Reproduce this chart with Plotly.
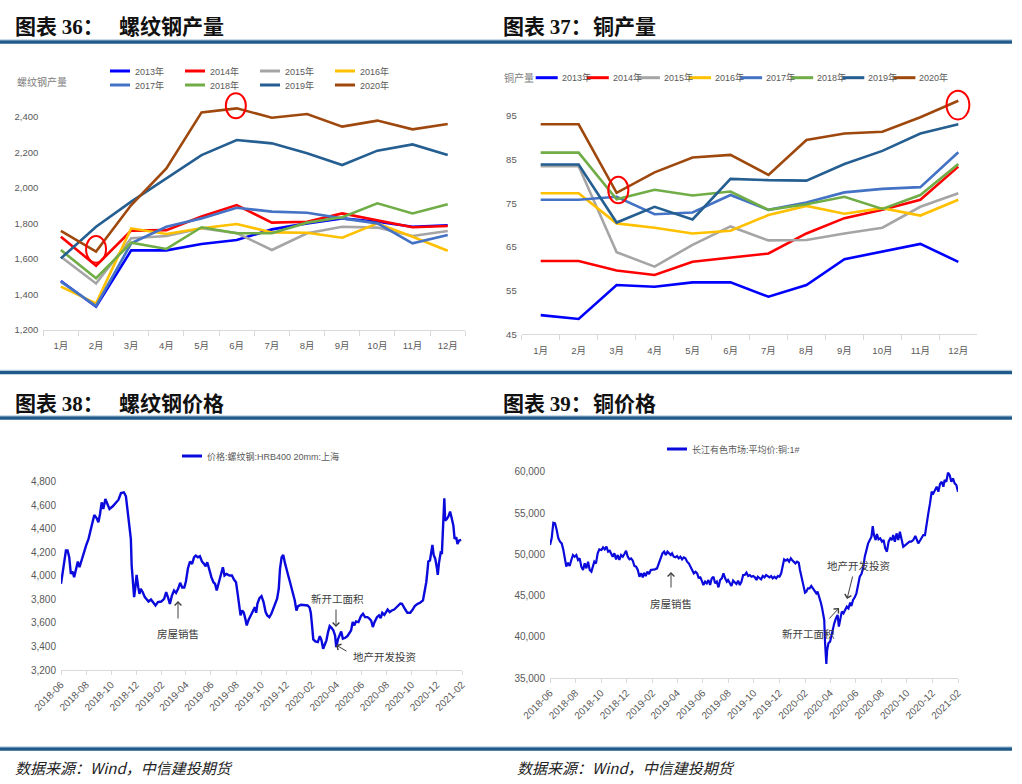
import plotly.graph_objects as go

W, H = 1022, 784


def PX(x):
    return x / W


def PY(y):
    return 1 - y / H


# ---------------- data ----------------
months = ["1月", "2月", "3月", "4月", "5月", "6月", "7月", "8月", "9月", "10月", "11月", "12月"]
years = ["2013年", "2014年", "2015年", "2016年", "2017年", "2018年", "2019年", "2020年"]
year_colors = ["#0000FF", "#FF0000", "#A5A5A5", "#FFC000", "#4472C4", "#70AD47", "#255E91", "#9E480E"]

rebar_2013 = [1476, 1331, 1648, 1648, 1684, 1706, 1766, 1800, 1828, 1809, 1781, 1789]
rebar_2014 = [1725, 1562, 1759, 1762, 1838, 1903, 1804, 1809, 1856, 1819, 1778, 1785]
rebar_2015 = [1612, 1462, 1716, 1729, 1772, 1745, 1650, 1744, 1781, 1776, 1729, 1757]
rebar_2016 = [1444, 1350, 1772, 1740, 1772, 1796, 1749, 1747, 1719, 1800, 1725, 1646]
rebar_2017 = [1472, 1335, 1688, 1781, 1828, 1888, 1866, 1860, 1828, 1800, 1688, 1734]
rebar_2018 = [1650, 1491, 1691, 1656, 1778, 1744, 1744, 1804, 1834, 1913, 1856, 1907]
rebar_2019 = [1603, 1781, 1922, 2053, 2184, 2269, 2250, 2194, 2128, 2209, 2244, 2184]
rebar_2020 = [1757, 1641, 1903, 2109, 2424, 2447, 2394, 2415, 2344, 2378, 2329, 2359]

copper_2013 = [49.4, 48.5, 56.3, 55.9, 56.9, 56.9, 53.6, 56.3, 62.2, 63.9, 65.7, 61.6]
copper_2014 = [61.8, 61.8, 59.6, 58.6, 61.6, 62.6, 63.5, 68.1, 71.6, 73.5, 75.8, 83.4]
copper_2015 = [83.5, 83.5, 63.8, 60.5, 65.5, 69.7, 66.5, 66.6, 68.1, 69.4, 74.2, 77.3]
copper_2016 = [77.3, 77.3, 70.4, 69.4, 68.1, 68.7, 72.3, 74.4, 72.6, 73.9, 72.2, 75.8]
copper_2017 = [75.8, 75.8, 76.5, 72.5, 72.9, 76.9, 73.5, 75.2, 77.5, 78.3, 78.7, 86.7]
copper_2018 = [86.6, 86.6, 75.9, 78.1, 76.8, 77.7, 73.5, 74.8, 76.5, 73.7, 76.9, 84.0]
copper_2019 = [83.9, 83.9, 70.6, 74.2, 71.3, 80.6, 80.3, 80.2, 84.0, 87.0, 91.0, 93.1]
copper_2020 = [93.1, 93.1, 77.4, 82.1, 85.5, 86.1, 81.5, 89.5, 91.0, 91.4, 94.7, 98.5]

rebar_dates = [
    "2018-06-01", "2018-06-05", "2018-06-08", "2018-06-13", "2018-06-17", "2018-06-21", "2018-06-25", "2018-06-29",
    "2018-07-03", "2018-07-08", "2018-07-12", "2018-07-16", "2018-07-21", "2018-07-28", "2018-08-01", "2018-08-07",
    "2018-08-13", "2018-08-17", "2018-08-21", "2018-08-27", "2018-08-31", "2018-09-04", "2018-09-08", "2018-09-12",
    "2018-09-17", "2018-09-22", "2018-09-27", "2018-10-05", "2018-10-13", "2018-10-19", "2018-10-25", "2018-11-01",
    "2018-11-06", "2018-11-10", "2018-11-14", "2018-11-18", "2018-11-20", "2018-11-23", "2018-11-26", "2018-11-29",
    "2018-12-02", "2018-12-06", "2018-12-09", "2018-12-12", "2018-12-17", "2018-12-22", "2018-12-27", "2018-12-31",
    "2019-01-06", "2019-01-12", "2019-01-17", "2019-01-23", "2019-01-31", "2019-02-07", "2019-02-12", "2019-02-17",
    "2019-02-21", "2019-02-26", "2019-03-03", "2019-03-08", "2019-03-13", "2019-03-18", "2019-03-23", "2019-03-28",
    "2019-04-01", "2019-04-06", "2019-04-11", "2019-04-16", "2019-04-21", "2019-04-25", "2019-04-30", "2019-05-05",
    "2019-05-10", "2019-05-15", "2019-05-19", "2019-05-23", "2019-05-28", "2019-06-02", "2019-06-07", "2019-06-11",
    "2019-06-15", "2019-06-20", "2019-06-25", "2019-06-30", "2019-07-04", "2019-07-09", "2019-07-16", "2019-07-22",
    "2019-07-27", "2019-08-01", "2019-08-05", "2019-08-08", "2019-08-12", "2019-08-16", "2019-08-20", "2019-08-24",
    "2019-08-27", "2019-09-01", "2019-09-06", "2019-09-11", "2019-09-16", "2019-09-19", "2019-09-22", "2019-09-27",
    "2019-10-02", "2019-10-07", "2019-10-12", "2019-10-16", "2019-10-21", "2019-10-26", "2019-10-31", "2019-11-05",
    "2019-11-09", "2019-11-13", "2019-11-16", "2019-11-20", "2019-11-24", "2019-11-28", "2019-12-02", "2019-12-06",
    "2019-12-10", "2019-12-14", "2019-12-18", "2019-12-22", "2019-12-26", "2019-12-30", "2020-01-06", "2020-01-14",
    "2020-01-22", "2020-01-27", "2020-01-30", "2020-02-02", "2020-02-05", "2020-02-10", "2020-02-16", "2020-02-21",
    "2020-02-25", "2020-02-29", "2020-03-04", "2020-03-08", "2020-03-12", "2020-03-16", "2020-03-21", "2020-03-25",
    "2020-03-29", "2020-04-01", "2020-04-05", "2020-04-09", "2020-04-13", "2020-04-17", "2020-04-23", "2020-04-28",
    "2020-05-03", "2020-05-07", "2020-05-11", "2020-05-15", "2020-05-19", "2020-05-25", "2020-05-31", "2020-06-05",
    "2020-06-10", "2020-06-16", "2020-06-21", "2020-06-25", "2020-06-29", "2020-07-03", "2020-07-09", "2020-07-14",
    "2020-07-18", "2020-07-22", "2020-07-27", "2020-07-31", "2020-08-04", "2020-08-09", "2020-08-14", "2020-08-20",
    "2020-08-25", "2020-08-30", "2020-09-04", "2020-09-08", "2020-09-12", "2020-09-16", "2020-09-21", "2020-09-28",
    "2020-10-04", "2020-10-09", "2020-10-16", "2020-10-22", "2020-10-29", "2020-11-02", "2020-11-06", "2020-11-09",
    "2020-11-11", "2020-11-15", "2020-11-18", "2020-11-21", "2020-11-24", "2020-11-28", "2020-12-02", "2020-12-04",
    "2020-12-07", "2020-12-11", "2020-12-14", "2020-12-16", "2020-12-20", "2020-12-22", "2020-12-26", "2020-12-30",
    "2021-01-03", "2021-01-07", "2021-01-11", "2021-01-14", "2021-01-18", "2021-01-21", "2021-01-25", "2021-01-30",
]
rebar_price = [
    3932, 4031, 4116, 4215, 4215, 4158, 4017, 4037,
    3989, 4059, 4122, 4073, 4138, 4215, 4257, 4314,
    4399, 4469, 4517, 4489, 4455, 4526, 4625, 4568,
    4653, 4611, 4568, 4591, 4619, 4647, 4704, 4710,
    4676, 4568, 4455, 4314, 4088, 3918, 3819, 3904,
    4008, 3904, 3847, 3890, 3861, 3819, 3799, 3782,
    3799, 3768, 3748, 3777, 3782, 3805, 3861, 3811,
    3762, 3833, 3876, 3856, 3890, 3941, 3901, 3901,
    3952, 4065, 4122, 4102, 4158, 4172, 4158, 4167,
    4122, 4102, 4082, 4116, 4045, 3989, 3946, 3932,
    3876, 3941, 4008, 4073, 4003, 4017, 4003, 4003,
    3969, 3946, 3847, 3762, 3664, 3706, 3686, 3630,
    3579, 3630, 3669, 3706, 3734, 3686, 3762, 3811,
    3828, 3777, 3692, 3664, 3649, 3678, 3720, 3777,
    3805, 3890, 4059, 4158, 4178, 4110, 4045, 4003,
    3952, 3895, 3856, 3791, 3706, 3743, 3754, 3754,
    3748, 3731, 3686, 3579, 3460, 3443, 3437, 3488,
    3452, 3381, 3423, 3452, 3522, 3573, 3556, 3536,
    3494, 3395, 3460, 3500, 3528, 3466, 3474, 3488,
    3517, 3536, 3607, 3579, 3613, 3607, 3658, 3678,
    3649, 3649, 3635, 3618, 3565, 3607, 3649, 3664,
    3641, 3686, 3669, 3692, 3714, 3692, 3706, 3714,
    3734, 3748, 3765, 3762, 3743, 3714, 3686, 3686,
    3714, 3743, 3762, 3771, 3791, 3861, 3946, 4045,
    4122, 4130, 4223, 4263, 4178, 4144, 4065, 4008,
    4110, 4195, 4187, 4342, 4659, 4469, 4483, 4506,
    4546, 4489, 4427, 4314, 4328, 4271, 4300, 4305,
]

copper_dates = [
    "2018-06-01", "2018-06-05", "2018-06-09", "2018-06-13", "2018-06-17", "2018-06-21", "2018-06-25", "2018-06-29",
    "2018-07-03", "2018-07-06", "2018-07-10", "2018-07-14", "2018-07-18", "2018-07-22", "2018-07-26", "2018-07-30",
    "2018-08-03", "2018-08-07", "2018-08-11", "2018-08-15", "2018-08-19", "2018-08-23", "2018-08-27", "2018-08-31",
    "2018-09-04", "2018-09-08", "2018-09-11", "2018-09-15", "2018-09-19", "2018-09-23", "2018-09-27", "2018-10-02",
    "2018-10-06", "2018-10-10", "2018-10-14", "2018-10-18", "2018-10-22", "2018-10-26", "2018-10-29", "2018-11-02",
    "2018-11-06", "2018-11-10", "2018-11-14", "2018-11-18", "2018-11-22", "2018-11-26", "2018-11-30", "2018-12-04",
    "2018-12-08", "2018-12-12", "2018-12-16", "2018-12-20", "2018-12-24", "2018-12-28", "2019-01-01", "2019-01-05",
    "2019-01-09", "2019-01-12", "2019-01-16", "2019-01-20", "2019-01-24", "2019-01-28", "2019-02-01", "2019-02-07",
    "2019-02-12", "2019-02-17", "2019-02-21", "2019-02-25", "2019-03-01", "2019-03-05", "2019-03-09", "2019-03-13",
    "2019-03-17", "2019-03-20", "2019-03-24", "2019-03-28", "2019-04-01", "2019-04-05", "2019-04-09", "2019-04-13",
    "2019-04-17", "2019-04-21", "2019-04-25", "2019-04-29", "2019-05-03", "2019-05-07", "2019-05-11", "2019-05-15",
    "2019-05-19", "2019-05-23", "2019-05-26", "2019-05-30", "2019-06-03", "2019-06-07", "2019-06-11", "2019-06-15",
    "2019-06-19", "2019-06-23", "2019-06-27", "2019-07-01", "2019-07-05", "2019-07-09", "2019-07-13", "2019-07-17",
    "2019-07-21", "2019-07-25", "2019-07-29", "2019-08-01", "2019-08-05", "2019-08-09", "2019-08-13", "2019-08-17",
    "2019-08-21", "2019-08-25", "2019-08-29", "2019-09-02", "2019-09-06", "2019-09-10", "2019-09-14", "2019-09-18",
    "2019-09-22", "2019-09-26", "2019-09-30", "2019-10-04", "2019-10-08", "2019-10-11", "2019-10-15", "2019-10-19",
    "2019-10-23", "2019-10-27", "2019-10-31", "2019-11-04", "2019-11-08", "2019-11-12", "2019-11-16", "2019-11-20",
    "2019-11-24", "2019-11-28", "2019-12-02", "2019-12-06", "2019-12-09", "2019-12-13", "2019-12-17", "2019-12-21",
    "2019-12-25", "2019-12-29", "2020-01-01", "2020-01-05", "2020-01-09", "2020-01-13", "2020-01-17", "2020-01-20",
    "2020-01-24", "2020-01-28", "2020-02-01", "2020-02-04", "2020-02-08", "2020-02-12", "2020-02-16", "2020-02-20",
    "2020-02-24", "2020-02-28", "2020-03-02", "2020-03-06", "2020-03-10", "2020-03-13", "2020-03-16", "2020-03-18",
    "2020-03-20", "2020-03-21", "2020-03-23", "2020-03-25", "2020-03-28", "2020-04-01", "2020-04-04", "2020-04-07",
    "2020-04-11", "2020-04-15", "2020-04-19", "2020-04-22", "2020-04-26", "2020-04-29", "2020-05-03", "2020-05-07",
    "2020-05-11", "2020-05-15", "2020-05-19", "2020-05-22", "2020-05-26", "2020-05-30", "2020-06-03", "2020-06-07",
    "2020-06-11", "2020-06-15", "2020-06-19", "2020-06-23", "2020-06-27", "2020-07-01", "2020-07-05", "2020-07-09",
    "2020-07-12", "2020-07-15", "2020-07-19", "2020-07-22", "2020-07-26", "2020-07-30", "2020-08-03", "2020-08-07",
    "2020-08-11", "2020-08-15", "2020-08-19", "2020-08-23", "2020-08-27", "2020-08-30", "2020-09-03", "2020-09-07",
    "2020-09-11", "2020-09-15", "2020-09-19", "2020-09-23", "2020-09-28", "2020-10-03", "2020-10-08", "2020-10-12",
    "2020-10-17", "2020-10-22", "2020-10-25", "2020-10-29", "2020-11-03", "2020-11-06", "2020-11-10", "2020-11-14",
    "2020-11-18", "2020-11-22", "2020-11-26", "2020-11-30", "2020-12-04", "2020-12-08", "2020-12-12", "2020-12-16",
    "2020-12-20", "2020-12-24", "2020-12-28", "2020-12-31", "2021-01-04", "2021-01-08", "2021-01-12", "2021-01-16",
    "2021-01-20", "2021-01-24", "2021-01-28", "2021-02-01",
]
copper_price = [
    51130, 51936, 53831, 53750, 52944, 51936, 51533, 51331,
    50525, 49718, 48509, 48993, 48590, 49315, 49920, 49718,
    49920, 49315, 49517, 48509, 48106, 48912, 48307, 49114,
    48106, 47904, 48509, 49114, 48912, 50122, 50606, 50525,
    50848, 50606, 50928, 50323, 50444, 49920, 49718, 50122,
    49396, 49920, 49315, 49920, 49718, 50041, 50444, 49718,
    49396, 49517, 49235, 48590, 48509, 48106, 47299, 47702,
    47218, 47783, 47380, 47904, 47622, 48106, 48106, 48186,
    48307, 49114, 49718, 50122, 50323, 49920, 50323, 50122,
    49920, 50122, 49718, 49638, 49799, 49517, 49718, 49396,
    49638, 49517, 49114, 48912, 48509, 48106, 47702, 47904,
    47702, 47098, 47299, 46815, 46291, 46694, 46492, 46896,
    46291, 47098, 47299, 46492, 46694, 46010, 46896, 47098,
    47702, 47098, 46694, 46896, 46492, 46170, 46815, 46573,
    46412, 46815, 46291, 46694, 47501, 47501, 47783, 47380,
    47501, 47299, 47380, 47218, 46896, 47299, 47098, 46976,
    47380, 47218, 47501, 47299, 47218, 47380, 47098, 47299,
    47098, 47380, 47299, 47702, 48509, 49396, 49235, 49396,
    49114, 49517, 49315, 49114, 48912, 49114, 48993, 48106,
    47098, 46291, 45364, 45485, 45888, 45888, 46170, 45888,
    45606, 45283, 45485, 44880, 44154, 43469, 42461, 42058,
    39235, 37623, 36736, 38429, 39235, 39437, 40243, 40848,
    41654, 42259, 42662, 41251, 42461, 43066, 42864, 43267,
    43670, 43469, 44154, 43750, 44477, 44800, 45283, 46291,
    47299, 47622, 48307, 49718, 50525, 51331, 51734, 52138,
    53428, 52339, 51734, 52460, 51815, 51936, 51533, 51734,
    50726, 50323, 51533, 51936, 51734, 52339, 51533, 52541,
    51734, 52742, 51815, 50928, 51130, 51331, 51533, 51533,
    51734, 52218, 51734, 51331, 51734, 51936, 52339, 52339,
    53952, 54960, 56170, 57581, 57379, 57702, 58186, 57581,
    58508, 58790, 58186, 58992, 58790, 59879, 59597, 58790,
    59194, 58589, 58387, 57581,
]

rebar_series = [rebar_2013, rebar_2014, rebar_2015, rebar_2016, rebar_2017, rebar_2018, rebar_2019, rebar_2020]
copper_series = [copper_2013, copper_2014, copper_2015, copper_2016, copper_2017, copper_2018, copper_2019, copper_2020]

# ---------------- styles ----------------
NUM_FONT = "Liberation Sans Narrow, Liberation Sans, Noto Sans CJK SC, sans-serif"
CJK_FONT = "Noto Sans CJK SC, sans-serif"
GRAY = "#595959"
AXIS_LINE = "#D9D9D9"
BAR_BLUE = "#1F5A8A"
PRICE_BLUE = "#0A0ADC"

fig = go.Figure()

for name, vals, col in zip(years, rebar_series, year_colors):
    fig.add_trace(go.Scatter(x=months, y=vals, mode="lines", name=name,
                             line=dict(color=col, width=2.6), xaxis="x", yaxis="y",
                             showlegend=False))
for name, vals, col in zip(years, copper_series, year_colors):
    fig.add_trace(go.Scatter(x=months, y=vals, mode="lines", name=name,
                             line=dict(color=col, width=2.6), xaxis="x2", yaxis="y2",
                             showlegend=False))
fig.add_trace(go.Scatter(x=rebar_dates, y=rebar_price, mode="lines", name="价格:螺纹钢:HRB400 20mm:上海",
                         line=dict(color=PRICE_BLUE, width=2.4), xaxis="x3", yaxis="y3", showlegend=False))
fig.add_trace(go.Scatter(x=copper_dates, y=copper_price, mode="lines", name="长江有色市场:平均价:铜:1#",
                         line=dict(color=PRICE_BLUE, width=2.2), xaxis="x4", yaxis="y4", showlegend=False))

tick9 = dict(family=NUM_FONT, size=9.5, color=GRAY)
tick10 = dict(family=NUM_FONT, size=10, color=GRAY)

cat_x = dict(type="category", showline=True, linecolor=AXIS_LINE, linewidth=1, ticks="outside",
             tickson="boundaries", ticklen=5, tickcolor=AXIS_LINE, showgrid=False, zeroline=False,
             tickfont=tick9, ticklabelstandoff=7, fixedrange=True, automargin=False,
             range=[-0.5, len(months) - 0.5])
num_y = dict(showline=False, showgrid=False, zeroline=False, ticks="", tickformat=",",
             ticklabelstandoff=4, fixedrange=True, automargin=False)
date_x = dict(type="date", showline=True, linecolor=AXIS_LINE, linewidth=1, ticks="outside", ticklen=4,
              tickcolor=AXIS_LINE, showgrid=False, zeroline=False, dtick="M2", tick0="2018-06-01",
              tickformat="%Y-%m", tickangle=-45, tickfont=tick10, range=["2018-06-01", "2021-02-01"],
              fixedrange=True, automargin=False)

fig.update_layout(
    template="none",
    width=W, height=H, autosize=False, margin=dict(l=0, r=0, t=0, b=0, pad=0),
    paper_bgcolor="white", plot_bgcolor="white", showlegend=False,
    xaxis=dict(cat_x, domain=[PX(43.3), PX(465.3)], anchor="y"),
    yaxis=dict(num_y, domain=[PY(330), PY(84.7)], anchor="x", range=[1200, 2580], dtick=200, tick0=1200,
               tickfont=tick9),
    xaxis2=dict(cat_x, domain=[PX(521.7), PX(977.3)], anchor="y2"),
    yaxis2=dict(num_y, domain=[PY(334.3), PY(87.6)], anchor="x2", range=[45, 101.5], dtick=10, tick0=45,
                tickfont=tick9),
    xaxis3=dict(date_x, domain=[PX(61), PX(462)], anchor="y3"),
    yaxis3=dict(num_y, domain=[PY(670), PY(481.7)], anchor="x3", range=[3200, 4800], dtick=200, tick0=3200,
                tickfont=tick10),
    xaxis4=dict(date_x, domain=[PX(550), PX(958)], anchor="y4"),
    yaxis4=dict(num_y, domain=[PY(678.3), PY(467.6)], anchor="x4", range=[35000, 60500], dtick=5000,
                tick0=35000, tickfont=tick10),
)

shapes = []
annotations = []

# section rules (thin light line on top of a thick dark one)
for yy in [42, 372.5, 418, 749]:
    shapes.append(dict(type="line", xref="paper", yref="paper", x0=0, x1=PX(1012), y0=PY(yy), y1=PY(yy),
                       line=dict(color=BAR_BLUE, width=3.5)))
    shapes.append(dict(type="line", xref="paper", yref="paper", x0=0, x1=PX(1012), y0=PY(yy - 2.3),
                       y1=PY(yy - 2.3), line=dict(color="#A9C4DC", width=0.8)))


def text(x, y, s, size, color="#000000", family=CJK_FONT, xanchor="left"):
    annotations.append(dict(xref="paper", yref="paper", x=PX(x), y=PY(y), text=s, showarrow=False,
                            xanchor=xanchor, yanchor="middle", font=dict(family=family, size=size, color=color)))


# titles
TITLE_FONT = "Noto Sans CJK SC, sans-serif"
SERIF = "font-family:Liberation Serif, serif"
text(13, 25, f"<b>图表 <span style='{SERIF}'>36</span>：</b>", 21, "#111111", TITLE_FONT)
text(117, 25, "<b>螺纹钢产量</b>", 21, "#111111", TITLE_FONT)
text(501, 25, f"<b>图表 <span style='{SERIF}'>37</span>：</b>", 21, "#111111", TITLE_FONT)
text(591, 25, "<b>铜产量</b>", 21, "#111111", TITLE_FONT)
text(13, 402, f"<b>图表 <span style='{SERIF}'>38</span>：</b>", 21, "#111111", TITLE_FONT)
text(117, 402, "<b>螺纹钢价格</b>", 21, "#111111", TITLE_FONT)
text(501, 402, f"<b>图表 <span style='{SERIF}'>39</span>：</b>", 21, "#111111", TITLE_FONT)
text(591, 402, "<b>铜价格</b>", 21, "#111111", TITLE_FONT)

# footers
text(13, 767, "<i>数据来源：Wind，中信建投期货</i>", 15, "#222222", "Noto Sans CJK SC, Liberation Serif, serif")
text(515, 767, "<i>数据来源：Wind，中信建投期货</i>", 15, "#222222", "Noto Sans CJK SC, Liberation Serif, serif")

# axis titles inside charts 36/37
text(15, 81, "螺纹钢产量", 10, "#808080")
text(502, 77.7, "铜产量", 10, "#808080")


def legend_key(x, y, color, label, length=20, gap=3, size=9):
    shapes.append(dict(type="line", xref="paper", yref="paper", x0=PX(x), x1=PX(x + length),
                       y0=PY(y), y1=PY(y), line=dict(color=color, width=3)))
    text(x + length + gap, y, label, size, GRAY, NUM_FONT)


# legend chart 36 (2 rows x 4)
for i, (name, col) in enumerate(zip(years, year_colors)):
    row, c = divmod(i, 4)
    legend_key(110 + 75 * c, 71 + 14 * row, col, name)

# legend chart 37 (one row)
for i, (name, col) in enumerate(zip(years, year_colors)):
    legend_key(535.7 + 51.1 * i, 77.7, col, name, length=22, gap=2)

# legends charts 38/39
legend_key(182, 456, PRICE_BLUE, "价格:螺纹钢:HRB400 20mm:上海", length=20, gap=3)
legend_key(667, 449, PRICE_BLUE, "长江有色市场:平均价:铜:1#", length=20, gap=3)

# red highlight circles
RED = "#FF0000"
shapes += [
    dict(type="circle", xref="x", yref="y", x0=0.716, x1=1.284, y0=1579, y1=1729, line=dict(color=RED, width=2)),
    dict(type="circle", xref="x", yref="y", x0=4.69, x1=5.26, y0=2391, y1=2532, line=dict(color=RED, width=2)),
    dict(type="circle", xref="x2", yref="y2", x0=1.78, x1=2.31, y0=75.0, y1=81.1, line=dict(color=RED, width=2)),
    dict(type="circle", xref="x2", yref="y2", x0=10.69, x1=11.29, y0=94.2, y1=100.8, line=dict(color=RED, width=2)),
]

# callouts
NOTE = "#404040"


def arrow(hx, hy, tx, ty):
    annotations.append(dict(xref="paper", yref="paper", x=PX(hx), y=PY(hy), ax=tx - hx, ay=ty - hy,
                            text="", showarrow=True, arrowhead=4, arrowsize=1.3, arrowwidth=1,
                            arrowcolor=NOTE))


text(178, 633, "房屋销售", 10.5, NOTE, xanchor="center")
arrow(178, 601, 178, 620)
text(337, 598, "新开工面积", 10.5, NOTE, xanchor="center")
arrow(336, 627, 336, 608)
text(384, 656, "地产开发投资", 10.5, NOTE, xanchor="center")
arrow(336, 645, 348, 652)

text(671, 603, "房屋销售", 10.5, NOTE, xanchor="center")
arrow(671, 572, 671, 589)
text(808, 633, "新开工面积", 10.5, NOTE, xanchor="center")
arrow(839, 608, 828, 620)
text(858, 565, "地产开发投资", 10.5, NOTE, xanchor="center")
arrow(847, 599, 853, 575)

fig.update_layout(shapes=shapes, annotations=annotations)
fig.write_html(
    "out.html",
    config={"displayModeBar": False, "staticPlot": False},
    post_script="document.body.style.margin='0';document.body.style.overflow='hidden';",
)
